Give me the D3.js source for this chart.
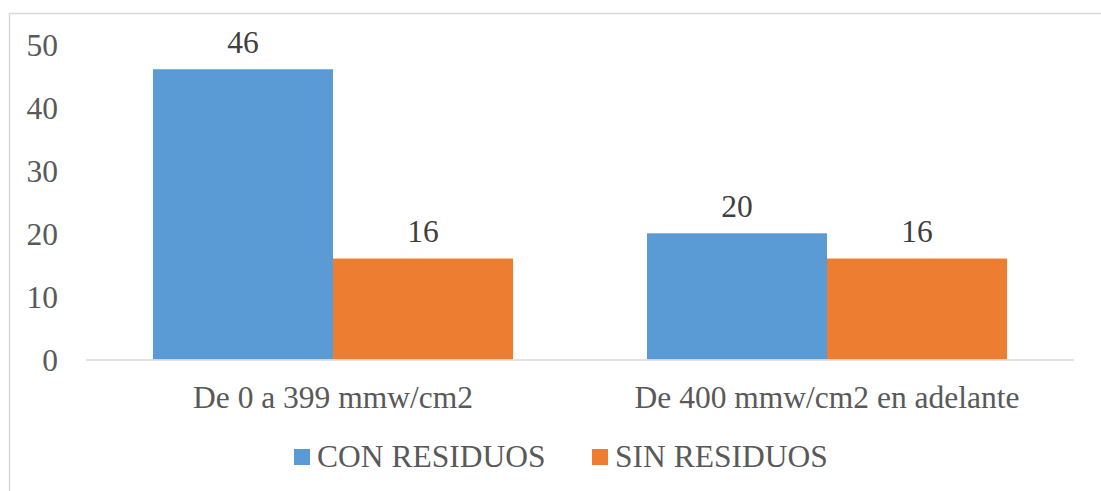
<!DOCTYPE html>
<html>
<head>
<meta charset="utf-8">
<script src="https://cdn.jsdelivr.net/npm/d3@7"></script>
<style>
  html, body { margin: 0; padding: 0; background: #fff; }
  svg { display: block; }
</style>
</head>
<body>
<svg id="chart" width="1101" height="491"></svg>
<script>
// Chart data
const categories = ["De 0 a 399 mmw/cm2", "De 400 mmw/cm2 en adelante"];
const seriesNames = ["CON RESIDUOS", "SIN RESIDUOS"];
const conResiduos = [46, 20];
const sinResiduos = [16, 16];
const yTicks = [0, 10, 20, 30, 40, 50];
const seriesColors = ["#5b9bd5", "#ed7d31"];

const seriesValues = [conResiduos, sinResiduos];
const FONT = '"Liberation Serif"';
const FS = "31.5px";

const svg = d3.select("#chart");

// Chart frame
svg.append("rect")
  .attr("x", 9.5).attr("y", 13.5)
  .attr("width", 1200).attr("height", 600)
  .attr("fill", "none")
  .attr("stroke", "#d9d9d9")
  .attr("stroke-width", 1.5);

const plotLeft = 86, plotRight = 1074;
const y = d3.scaleLinear().domain([0, 50]).range([359.5, 44]);
const x = d3.scaleBand().domain(categories).range([plotLeft, plotRight]).padding(0);
const xSub = d3.scaleBand().domain(seriesNames).range([0, x.bandwidth()])
  .paddingInner(0).paddingOuter(0.372);

function setFont(sel) {
  return sel.style("font-family", FONT).style("font-size", FS);
}

// Y axis labels (no axis line, no gridlines)
const yAxis = d3.axisLeft(y).tickValues(yTicks).tickSize(0).tickPadding(0);
const yg = svg.append("g").attr("transform", "translate(58,0)").call(yAxis);
yg.attr("font-family", null).attr("font-size", null);
yg.select(".domain").remove();
setFont(yg.selectAll("text"))
  .attr("fill", "#595959").attr("x", 0).attr("dy", "0.35em");

// Bars
const groups = svg.append("g").selectAll("g")
  .data(categories)
  .join("g")
  .attr("transform", d => `translate(${x(d)},0)`);

groups.selectAll("rect")
  .data((c, i) => seriesNames.map((s, j) => ({ s, j, v: seriesValues[j][i] })))
  .join("rect")
  .attr("x", d => xSub(d.s))
  .attr("width", xSub.bandwidth())
  .attr("y", d => y(d.v))
  .attr("height", d => y(0) - y(d.v))
  .attr("fill", d => seriesColors[d.j]);

// Value labels
setFont(groups.selectAll("text.val")
  .data((c, i) => seriesNames.map((s, j) => ({ s, j, v: seriesValues[j][i] })))
  .join("text")
  .attr("class", "val")
  .attr("x", d => xSub(d.s) + xSub.bandwidth() / 2)
  .attr("y", d => y(d.v) - 16.5)
  .attr("text-anchor", "middle"))
  .attr("fill", "#404040")
  .text(d => d.v);

// Category axis
const xAxis = d3.axisBottom(x).tickSize(0).tickPadding(0);
const xg = svg.append("g").attr("transform", `translate(0,${y(0)})`).call(xAxis);
xg.attr("font-family", null).attr("font-size", null);
xg.select(".domain")
  .attr("stroke", "#d9d9d9").attr("stroke-width", 1.5)
  .attr("d", `M${plotLeft},0.5H${plotRight}`);
setFont(xg.selectAll("text"))
  .attr("fill", "#595959").attr("y", 48).attr("dy", 0);

// Legend
const legendX = [294, 592];
const legend = svg.append("g").selectAll("g")
  .data(seriesNames)
  .join("g")
  .attr("transform", (d, i) => `translate(${legendX[i]},0)`);
legend.append("rect")
  .attr("x", 0).attr("y", 449)
  .attr("width", 16).attr("height", 16)
  .attr("fill", (d, i) => seriesColors[i]);
setFont(legend.append("text")
  .attr("x", 23).attr("y", 467))
  .attr("fill", "#595959")
  .text(d => d);
</script>
</body>
</html>
